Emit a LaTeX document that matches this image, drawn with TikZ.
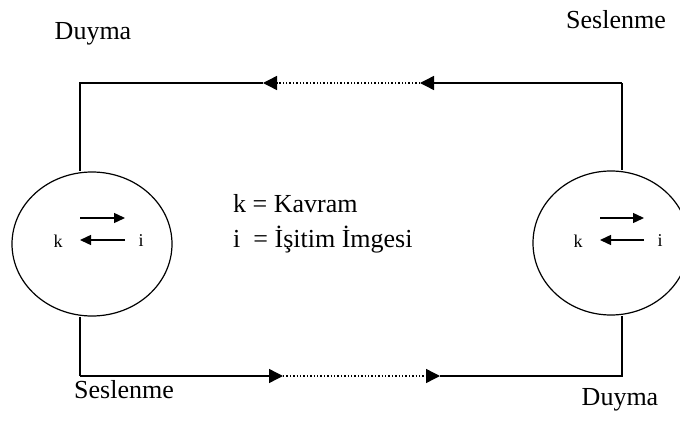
\documentclass[tikz,border=0pt]{standalone}
\usepackage{fontspec}
\setmainfont{Liberation Serif}
\usetikzlibrary{arrows.meta,shapes.geometric}
\begin{document}
\begin{tikzpicture}[x=1pt,y=-1pt,
  wire/.style={line width=1.4pt},
  bigtip/.style={-{Triangle[length=14pt,width=14pt]}},
  smalltip/.style={-{Triangle[length=11pt,width=10pt]}},
  mind/.style={draw,line width=1.2pt,ellipse,minimum width=#1,minimum height=144pt,inner sep=0pt},
  label/.style={font=\fontsize{26}{30}\selectfont,inner sep=0pt},
  letter/.style={font=\fontsize{18}{21}\selectfont,inner sep=0pt}]
\useasboundingbox (0,0) rectangle (680,444);

% the two speakers
\node[mind=160pt] (L) at (92,244) {};
\node[mind=156pt] (R) at (611,243) {};

% concept / sound-image inside each circle
\node[letter] (kL) at (58,241) {k};
\node[letter] (iL) at (141,241) {i};
\coordinate (Lua) at (80,218);  \coordinate (Lub) at (125,218);
\coordinate (Lla) at (125,240); \coordinate (Llb) at (80,240);
\draw[wire,smalltip] (Lua) -- (Lub);
\draw[wire,smalltip] (Lla) -- (Llb);

\node[letter] (kR) at (578,241) {k};
\node[letter] (iR) at (660,241) {i};
\coordinate (Rua) at (600,218); \coordinate (Rub) at (644,218);
\coordinate (Rla) at (644,240); \coordinate (Rlb) at (600,240);
\draw[wire,smalltip] (Rua) -- (Rub);
\draw[wire,smalltip] (Rla) -- (Rlb);

% circuit corners and arrow points
\coordinate (tl) at (80,83);
\coordinate (tr) at (622,83);
\coordinate (bl) at (80,376);
\coordinate (br) at (622,376);
\coordinate (t1) at (420,83);
\coordinate (t2) at (263,83);
\coordinate (b1) at (283,376);
\coordinate (b2) at (440,376);

% upper path: right speaker to left listener
\draw[wire] (R.north -| tr) -- (tr);
\draw[wire,bigtip] (tr) -- (t1);
\draw[wire,dotted,bigtip] (t1) -- (t2);
\draw[wire] (t2) -- (tl) -- (L.north -| tl);

% lower path: left speaker to right listener
\draw[wire] (L.south -| bl) -- (bl);
\draw[wire,bigtip] (bl) -- (b1);
\draw[wire,dotted,bigtip] (b1) -- (b2);
\draw[wire] (b2) -- (br) -- (R.south -| br);

% labels
\node[label] (d1) at (93,34) {Duyma};
\node[label] (s1) at (616,20) {Seslenme};
\node[label] (s2) at (124,390) {Seslenme};
\node[label] (d2) at (620,400) {Duyma};

\node[label,anchor=west] (kk) at (233,204) {k = Kavram};
\node[label,anchor=west] (ii) at (233,240) {i\ \ = İşitim İmgesi};
\end{tikzpicture}
\end{document}
